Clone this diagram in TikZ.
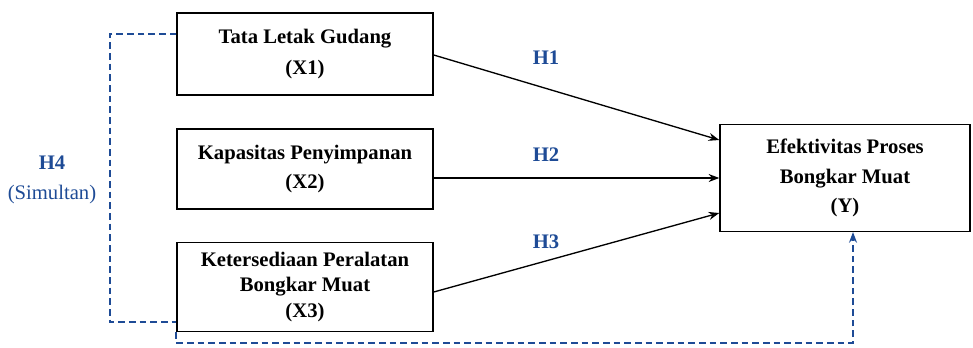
\documentclass[tikz,border=0pt]{standalone}
\usepackage{fontspec}
\setmainfont{Liberation Serif}
\usetikzlibrary{arrows.meta}
\definecolor{hypblue}{RGB}{30,75,150}

\begin{document}
\begin{tikzpicture}[x=0.75pt,y=-0.75pt,
	varbox/.style={draw,line width=1.1pt,minimum width=192pt,align=center,font=\fontsize{15.5}{19}\selectfont\bfseries},
	path/.style={line width=1pt,-{Stealth[length=8pt,width=6pt]}},
	simline/.style={hypblue,line width=1.2pt,dash pattern=on 5pt off 3pt},
	hyp/.style={hypblue,align=center,font=\fontsize{15.5}{22}\selectfont}]
	\useasboundingbox (0,0) rectangle (973,347);
	% independent variables
	\node[varbox,minimum height=61.5pt] (x1) at (305,54) {Tata Letak Gudang\\[4pt](X1)};
	\node[varbox,minimum height=60pt] (x2) at (305,169) {Kapasitas Penyimpanan\\[3pt](X2)};
	\node[varbox,minimum height=67pt] (x3) at (305,287) {Ketersediaan Peralatan\\Bongkar Muat\\(X3)};
	% dependent variable
	\node[varbox,minimum width=187.5pt,minimum height=80pt] (y) at (845,178) {Efektivitas Proses\\[3pt]Bongkar Muat\\[3pt](Y)};
	% partial paths
	\draw[path] (x1.east |- 0,55) -- (y.west |- 0,140);
	\draw[path] (x2.east |- 0,178) -- (y.west |- 0,178);
	\draw[path] (x3.east |- 0,292) -- (y.west |- 0,213);
	\node[hyp] (h1) at (546,58) {\textbf{H1}};
	\node[hyp] (h2) at (546,155) {\textbf{H2}};
	\node[hyp] (h3) at (546,242) {\textbf{H3}};
	% simultaneous path
	\draw[simline] (x1.west |- 0,34) -| (110,322) -- (x3.west |- 0,322);
	\draw[simline,-{Stealth[length=8pt,width=6pt]}] (x3.south west) -- (x3.south west |- 0,343) -| (y.south -| 853,0);
	\node[hyp] (h4) at (52,180) {\textbf{H4}\\(Simultan)};
\end{tikzpicture}
\end{document}
